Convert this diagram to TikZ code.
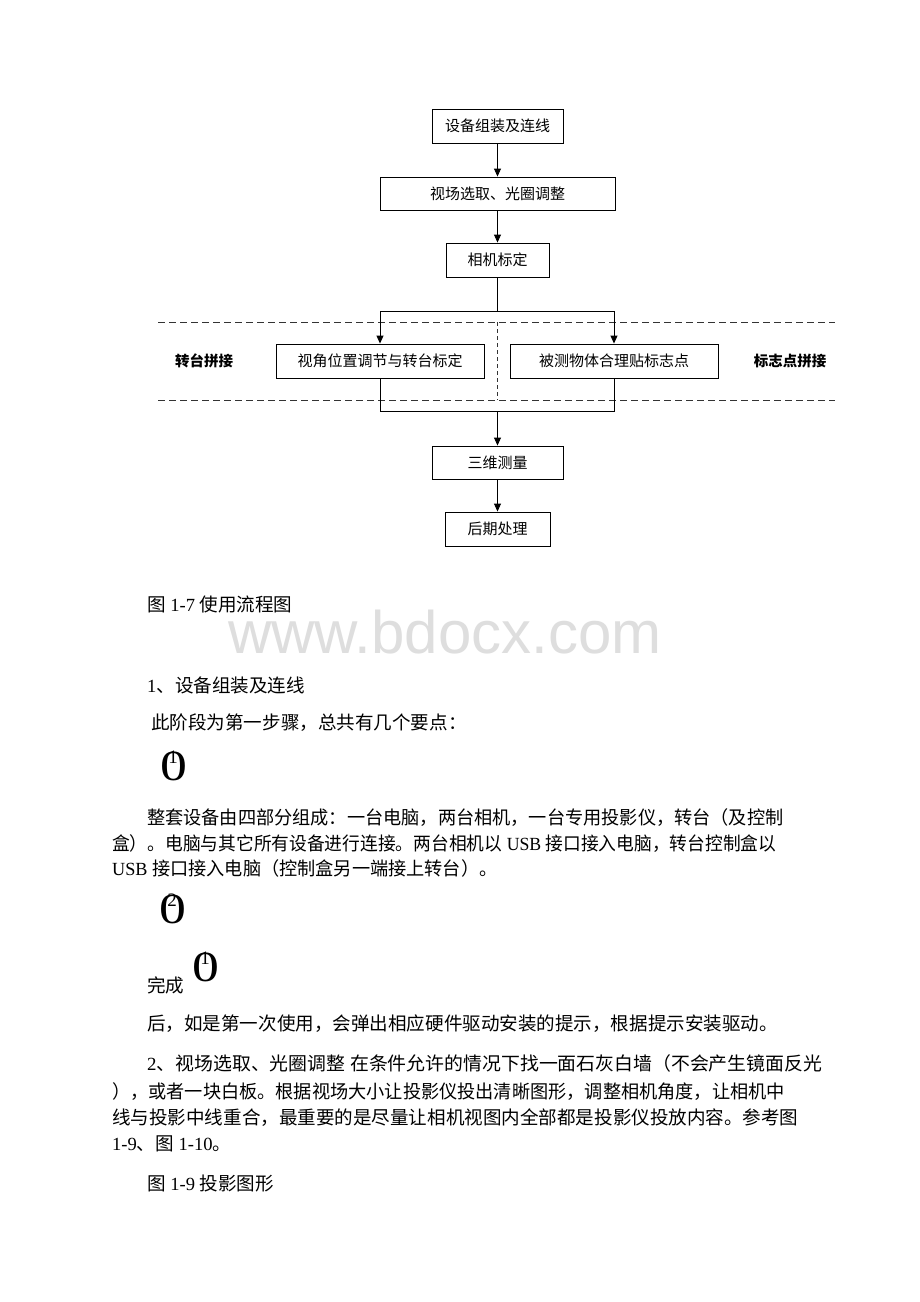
\documentclass[tikz,border=0pt]{standalone}
\usepackage{fontspec}
\setmainfont{Liberation Serif}
\newfontfamily\cjk{Noto Sans CJK SC}
\newfontfamily\wmfont{Liberation Sans}
\usetikzlibrary{arrows.meta}
\newcommand{\latn}[1]{{\rmfamily #1}}
\begin{document}
\begin{tikzpicture}[x=1pt,y=-1pt,
  box/.style={draw, line width=0.9pt, inner sep=0pt, font=\cjk\fontsize{15}{18}\selectfont},
  flow/.style={line width=0.9pt},
  arr/.style={flow,-{Triangle[length=8pt,width=7pt]}},
  sepline/.style={line width=0.9pt, dash pattern=on 7pt off 4pt, black!80},
  sepvert/.style={line width=0.9pt, dash pattern=on 4pt off 3pt, black!80},
  side/.style={font=\cjk\bfseries\fontsize{14.5}{18}\selectfont, inner sep=0pt},
  body/.style={anchor=base west, inner sep=0pt, font=\cjk\fontsize{18.55}{21}\selectfont},
  bigzero/.style={anchor=base, inner sep=0pt, xscale=1.25, font=\rmfamily\fontsize{43}{45}\selectfont},
  smalldigit/.style={anchor=base, inner sep=0pt, font=\rmfamily\fontsize{19}{20}\selectfont},
  watermark/.style={anchor=base west, inner sep=0pt, text=black!13, font=\wmfont\fontsize{60}{62}\selectfont}
  ]
\fill[white] (0,0) rectangle (920,1302);
\useasboundingbox (0,0) rectangle (920,1302);

% flowchart boxes
\node[box, minimum width=131pt, minimum height=34pt] (b1) at (497.5,126) {设备组装及连线};
\node[box, minimum width=235pt, minimum height=33pt] (b2) at (497.5,193.5) {视场选取、光圈调整};
\node[box, minimum width=103pt, minimum height=34pt] (b3) at (497.5,260) {相机标定};
\node[box, minimum width=208pt, minimum height=34pt] (b4) at (380,361) {视角位置调节与转台标定};
\node[box, minimum width=208pt, minimum height=34pt] (b5) at (614,361) {被测物体合理贴标志点};
\node[box, minimum width=131pt, minimum height=33pt] (b6) at (497.5,462.5) {三维测量};
\node[box, minimum width=105pt, minimum height=34pt] (b7) at (497.5,529) {后期处理};

\node[side] (lz) at (204,361) {转台拼接};
\node[side] (lb) at (790,361) {标志点拼接};

% separators
\coordinate (d1l) at (158,322);
\coordinate (d1r) at (835,322);
\coordinate (d2l) at (158,400);
\coordinate (d2r) at (835,400);
\coordinate (dvt) at (497.5,322);
\coordinate (dvb) at (497.5,400);
\draw[sepline] (d1l) -- (d1r);
\draw[sepline] (d2l) -- (d2r);
\draw[sepvert] (dvt) -- (dvb);

% connectors
\draw[arr] (b1) -- (b2);
\draw[arr] (b2) -- (b3);
\coordinate (split) at (497.5,311);
\draw[flow] (b3.south) -- (split);
\draw[arr] (split) -| (b4.north);
\draw[arr] (split) -| (b5.north);
\coordinate (join) at (497.5,411);
\draw[flow] (b4.south) |- (join);
\draw[flow] (b5.south) |- (join);
\draw[arr] (join) -- (b6.north);
\draw[arr] (b6) -- (b7);

% body text
\node[body] (t1) at (147,611) {图\latn{ 1-7 }使用流程图};
\node[watermark] (wm) at (228,653) {www.bdocx.com};
\node[body] (t2) at (147,692) {\latn{1}、设备组装及连线};
\node[body] (t3) at (151,729) {此阶段为第一步骤，总共有几个要点：};

\node[bigzero] (z1) at (173.5,780) {0};
\node[smalldigit] (s1) at (173,763) {1};

\node[body, xscale=0.98] (p1a) at (147,824) {整套设备由四部分组成：一台电脑，两台相机，一台专用投影仪，转台（及控制};
\node[body, xscale=0.956] (p1b) at (112,850) {盒）。电脑与其它所有设备进行连接。两台相机以\latn{ USB }接口接入电脑，转台控制盒以};
\node[body, xscale=0.98] (p1c) at (112,875) {\latn{USB }接口接入电脑（控制盒另一端接上转台）。};

\node[bigzero] (z2) at (173,923) {0};
\node[smalldigit] (s2) at (172,906) {2};

\node[body] (t4) at (147,992) {完成};
\node[bigzero] (z3) at (205.5,981) {0};
\node[smalldigit] (s3) at (205,964) {1};

\node[body] (t5) at (147,1030) {后，如是第一次使用，会弹出相应硬件驱动安装的提示，根据提示安装驱动。};

\node[body, xscale=1.018] (p2a) at (147,1070) {\latn{2}、视场选取、光圈调整\latn{ }在条件允许的情况下找一面石灰白墙（不会产生镜面反光};
\node[body, xscale=0.98] (p2b) at (112,1098) {），或者一块白板。根据视场大小让投影仪投出清晰图形，调整相机角度，让相机中};
\node[body] (p2c) at (112,1124) {线与投影中线重合，最重要的是尽量让相机视图内全部都是投影仪投放内容。参考图};
\node[body] (p2d) at (112,1150) {\latn{1-9}、图\latn{ 1-10}。};

\node[body] (t6) at (147,1190) {图\latn{ 1-9 }投影图形};
\end{tikzpicture}
\end{document}
